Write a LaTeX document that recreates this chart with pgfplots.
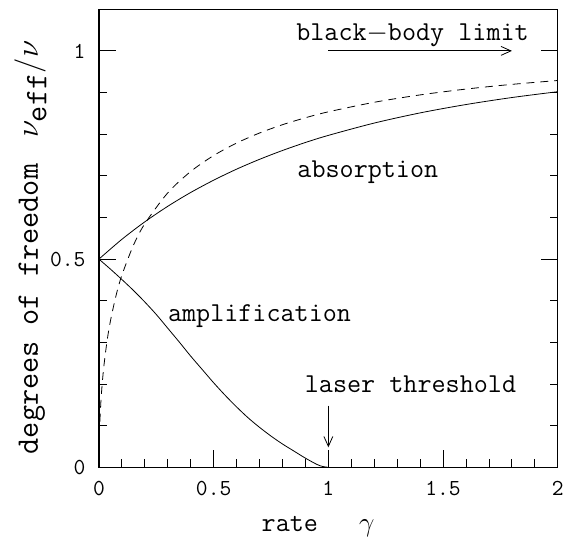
\RequirePackage{fix-cm}
\documentclass[border=0pt]{standalone}
\usepackage{pgfplots}
\pgfplotsset{compat=1.18}
\usetikzlibrary{arrows.meta}

\newcommand{\lbl}{\fontsize{27.5}{30}\selectfont\ttfamily}
\newcommand{\ylbl}{\fontsize{31.5}{34}\selectfont\ttfamily}
\newcommand{\tck}{\fontsize{23}{25}\selectfont\ttfamily}

\begin{document}
\begin{tikzpicture}
\begin{axis}[
    scale only axis,
    width=461.5pt, height=460.7pt,
    xmin=0, xmax=2, ymin=0, ymax=1.1,
    xtick={0,0.5,1,1.5,2},
    xticklabels={0,0.5,1,1.5,2},
    ytick={0,0.5,1},
    yticklabels={0,0.5,1},
    minor x tick num=4,
    minor y tick num=4,
    xtick pos=bottom,
    ytick pos=both,
    yticklabel pos=left,
    tick align=inside,
    major tick length=17pt,
    minor tick length=8pt,
    every tick/.style={black, line width=0.9pt},
    axis line style={line width=1.3pt},
    ticklabel style={font=\tck},
    xticklabel style={yshift=-10pt},
    yticklabel style={xshift=-10pt},
    clip=false,
]
% absorption
\addplot[black, line width=0.8pt, smooth] coordinates {
(0,0.5) (0.1,0.5475) (0.2,0.5895) (0.3,0.6268) (0.4,0.660) (0.5,0.6895)
(0.6,0.716) (0.7,0.7396) (0.8,0.7608) (0.9,0.780) (1.0,0.7971) (1.2,0.8267)
(1.4,0.8511) (1.6,0.8712) (1.8,0.888) (2.0,0.902)};
% dashed
\addplot[black, line width=0.8pt, smooth, dash pattern=on 8pt off 6pt] coordinates {
(0.004,0.1097) (0.01,0.1704) (0.02,0.2352) (0.035,0.3017) (0.05,0.3511)
(0.075,0.4135) (0.1,0.4613) (0.15,0.5327) (0.2,0.5850) (0.3,0.6591)
(0.4,0.7104) (0.5,0.7487) (0.6,0.7786) (0.7,0.8028) (0.8,0.8227)
(0.9,0.8394) (1.0,0.8537) (1.2,0.8766) (1.4,0.8943) (1.6,0.9083)
(1.8,0.9196) (2.0,0.9289)};
% amplification
\addplot[black, line width=0.8pt, smooth] coordinates {
(0,0.5) (0.05,0.476) (0.1,0.451) (0.15,0.425) (0.2,0.397) (0.25,0.367)
(0.3,0.334) (0.35,0.301) (0.4,0.267) (0.45,0.235) (0.5,0.203) (0.55,0.173)
(0.6,0.145) (0.65,0.119) (0.7,0.096) (0.75,0.075) (0.8,0.056) (0.85,0.039)
(0.9,0.022) (0.95,0.007) (0.975,0.002) (1.0,0)};

\node[font=\lbl, anchor=base] at (axis cs:1.367,1.026) {black$-$body limit};
\draw[line width=0.8pt, -{Straight Barb[length=10pt,width=9pt]}] (axis cs:1,1) -- (axis cs:1.8,1);
\node[font=\lbl, anchor=base] at (axis cs:1.172,0.697) {absorption};
\node[font=\lbl, anchor=base] at (axis cs:0.70,0.351) {amplification};
\node[font=\lbl, anchor=base] at (axis cs:1.358,0.179) {laser threshold};
\draw[line width=0.8pt, -{Straight Barb[length=10pt,width=9pt]}] (axis cs:1,0.148) -- (axis cs:1,0.048);

\node[font=\lbl, anchor=base] at (axis cs:0.955,-0.153) {rate\hspace{1.5em}$\gamma$};
\node[font=\ylbl, anchor=base, rotate=90] at (axis cs:-0.2665,0.528)
  {degrees of freedom\hspace{0.85em}$\nu_{\texttt{eff}}/\nu$};
\end{axis}
\path (current axis.south west) ++(-99.5pt,-69pt) rectangle ++(567pt,539pt);
\end{tikzpicture}
\end{document}
